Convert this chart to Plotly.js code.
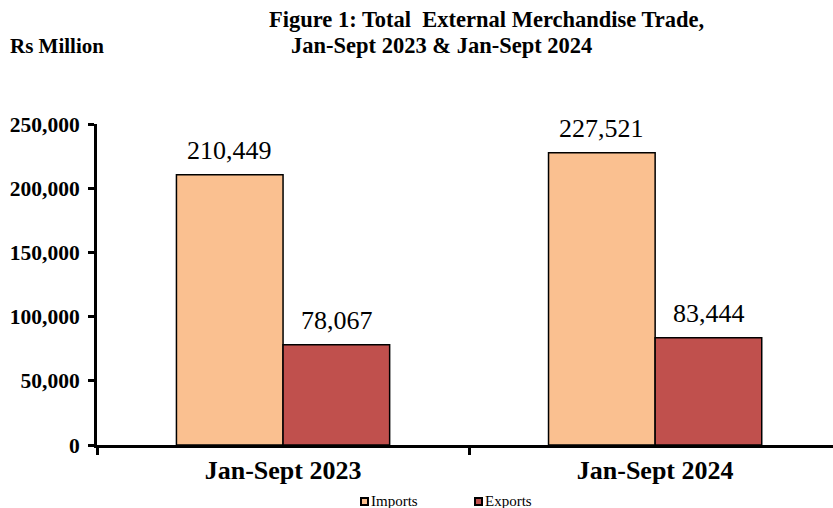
<!DOCTYPE html>
<html><head><meta charset="utf-8">
<script src="https://cdn.plot.ly/plotly-3.0.1.min.js"></script>
<style>body{margin:0;background:#fff}#c{width:833px;height:508px}</style>
</head><body><div id="c"></div>
<script>
const categories = ["Jan-Sept 2023", "Jan-Sept 2024"];
const imports = [210449, 227521];
const exportsVals = [78067, 83444];
const seriesNames = ["Imports", "Exports"];
const seriesColors = ["#FAC090", "#C0504D"];
const yTicks = [0, 50000, 100000, 150000, 200000, 250000];

const fmt = v => v.toLocaleString('en-US');
const F = "'Liberation Serif', 'Times New Roman', serif";

// plot-area geometry helpers (pixel -> paper)
const L = 97, R = 833, T = 124, B = 445;
const px = x => (x - L) / (R - L);
const py = y => (B - y) / (B - T);

const series = [imports, exportsVals];
const traces = series.map((vals, i) => ({
  type:'bar', name:seriesNames[i], x:categories, y:vals,
  marker:{color:seriesColors[i], line:{color:'#000', width:1.5}},
  showlegend:false
}));

// data labels above bars
const annotations = [];
series.forEach((vals, i) => {
  vals.forEach((v, j) => {
    annotations.push({xref:'x', yref:'y', x:categories[j], y:v, text:fmt(v),
      xshift:(i === 0 ? -53.5 : 53.5), yshift:8, yanchor:'bottom', xanchor:'center',
      showarrow:false, font:{family:F, size:26, color:'#000'}});
  });
});

annotations.push(
  {text:'<b>Figure 1: Total  External Merchandise Trade,</b>', xref:'paper', yref:'paper',
   x:px(486), y:py(20), xanchor:'center', yanchor:'middle', showarrow:false,
   font:{family:F, size:22.5, color:'#000'}},
  {text:'<b>Jan-Sept 2023 & Jan-Sept 2024</b>', xref:'paper', yref:'paper',
   x:px(441), y:py(46), xanchor:'center', yanchor:'middle', showarrow:false,
   font:{family:F, size:22.5, color:'#000'}},
  {text:'<b>Rs Million</b>', xref:'paper', yref:'paper',
   x:px(8), y:py(46), xanchor:'left', yanchor:'middle', showarrow:false,
   font:{family:F, size:21, color:'#000'}}
);

// custom legend
const legendItems = [{x:361}, {x:475}];
const shapes = [];
legendItems.forEach((it, i) => {
  shapes.push({type:'rect', xref:'paper', yref:'paper',
    x0:px(it.x), x1:px(it.x + 7), y0:py(505), y1:py(498),
    fillcolor:seriesColors[i], line:{color:'#000', width:2}});
  annotations.push({text:seriesNames[i], xref:'paper', yref:'paper',
    x:px(it.x + 8), y:py(501), xanchor:'left', yanchor:'middle', showarrow:false,
    font:{family:F, size:15, color:'#000'}});
});

const layout = {
  width:833, height:508,
  margin:{l:L, r:833 - R, t:T, b:508 - B},
  paper_bgcolor:'#fff', plot_bgcolor:'#fff',
  barmode:'group', bargap:0.427, bargroupgap:0,
  font:{family:F, color:'#000'},
  showlegend:false,
  xaxis:{type:'category', range:[-0.5, 1.478], showline:true, linecolor:'#000', linewidth:3,
         ticks:'outside', tickson:'boundaries', ticklen:7, tickwidth:3, tickcolor:'#000',
         showgrid:false, zeroline:false,
         tickfont:{family:F, size:26, color:'#000', weight:'bold'}},
  yaxis:{range:[0, 250000], tickvals:yTicks, ticktext:yTicks.map(fmt),
         showline:true, linecolor:'#000', linewidth:3, ticks:'outside', ticklen:6, tickwidth:3,
         tickcolor:'#000', showgrid:false, zeroline:false, automargin:false,
         ticklabelstandoff:4,
         tickfont:{family:F, size:21.5, color:'#000', weight:'bold'}},
  annotations:annotations,
  shapes:shapes
};
Plotly.newPlot('c', traces, layout, {displayModeBar:false, staticPlot:true});
</script></body></html>
